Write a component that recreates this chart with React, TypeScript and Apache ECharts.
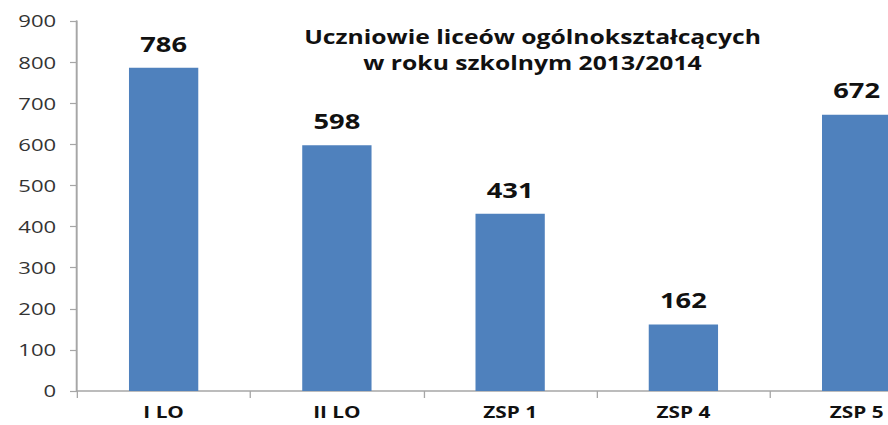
import React, { useEffect, useRef } from "react";
import * as echarts from "echarts";

const categories = ["I LO", "II LO", "ZSP 1", "ZSP 4", "ZSP 5"];
const values = [786, 598, 431, 162, 672];
const titleLines = ["Uczniowie liceów ogólnokształcących", "w roku szkolnym 2013/2014"];

const SX = 1.3;

export default function App() {
  const ref = useRef<HTMLDivElement>(null);
  useEffect(() => {
    if (!ref.current) return;
    const chart = echarts.init(ref.current, null, { renderer: "svg" });
    const font = "'Open Sans', 'Liberation Sans', sans-serif";
    chart.setOption({
      animation: false,
      title: {
        text: titleLines.join("\n"),
        left: 526 / SX,
        top: 18,
        textAlign: "center",
        textStyle: { fontFamily: font, fontSize: 19, fontWeight: "bold", color: "#111", lineHeight: 26 },
      },
      grid: { left: 77 / SX, right: 4.4, top: 21, bottom: 34 },
      xAxis: {
        type: "category",
        data: categories,
        axisLine: { lineStyle: { color: "#a6a6a6", width: 1.5 } },
        axisTick: { show: true, length: 7, lineStyle: { color: "#a6a6a6" } },
        axisLabel: { fontFamily: font, fontSize: 16, fontWeight: "bold", color: "#111", margin: 13 },
      },
      yAxis: {
        type: "value",
        min: 0,
        max: 900,
        interval: 100,
        axisLine: { show: true, lineStyle: { color: "#a6a6a6", width: 1.5 } },
        axisTick: { show: true, length: 5.4, lineStyle: { color: "#a6a6a6", width: 1.2 } },
        splitLine: { show: false },
        axisLabel: { fontFamily: font, fontSize: 17, color: "#333", margin: 16 },
      },
      series: [
        {
          type: "bar",
          data: values,
          barWidth: "40%",
          itemStyle: { color: "#4f81bd" },
          label: {
            show: true,
            position: "top",
            distance: 14,
            fontFamily: font,
            fontSize: 21,
            fontWeight: "bold",
            color: "#111",
          },
        },
      ],
    });
    return () => chart.dispose();
  }, []);
  return (
    <div
      style={{
        position: "fixed",
        left: 0,
        top: 0,
        width: 888,
        height: 425,
        overflow: "hidden",
        background: "#fff",
      }}
    >
      <div
        ref={ref}
        style={{
          width: 730,
          height: 425,
          transform: `scaleX(${SX})`,
          transformOrigin: "0 0",
        }}
      />
    </div>
  );
}
